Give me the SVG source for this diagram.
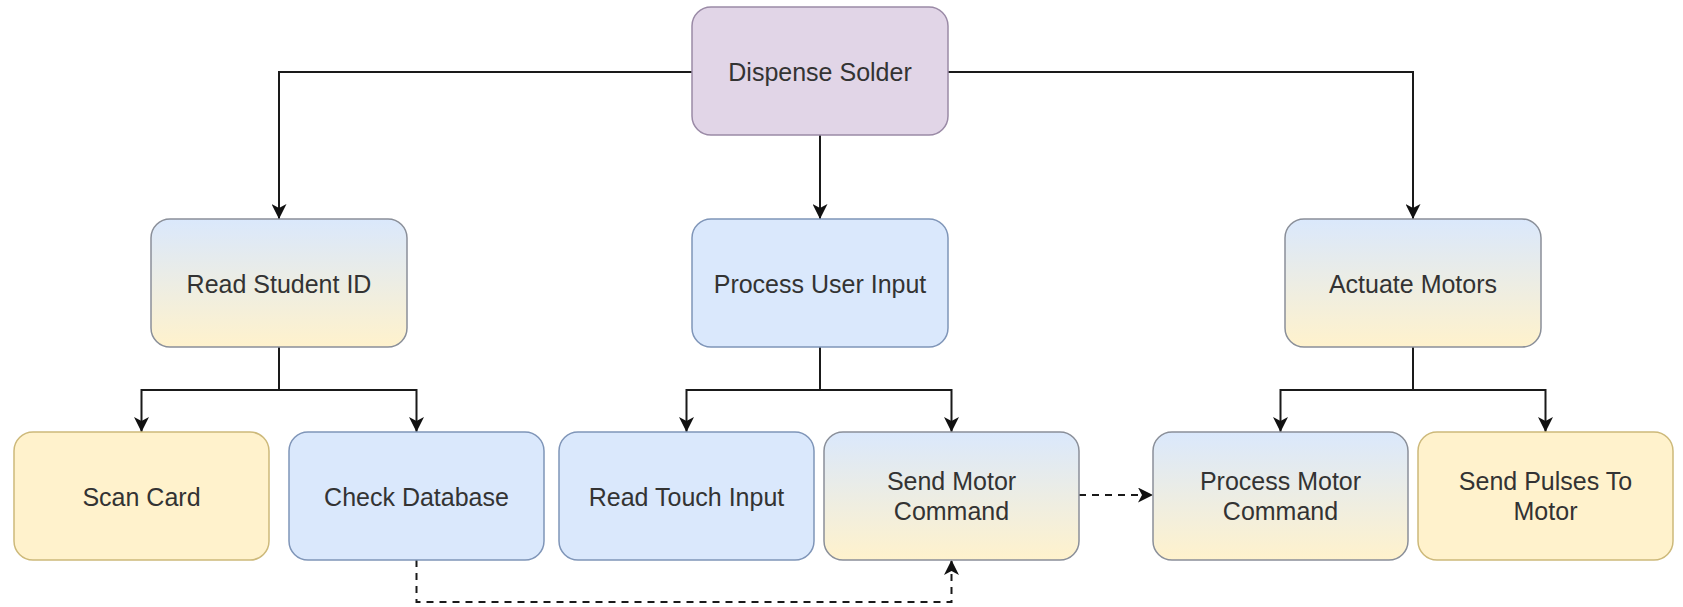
<svg xmlns="http://www.w3.org/2000/svg" width="1683" height="607" viewBox="0 0 1683 607">
  <defs>
    <linearGradient id="blueToYellow" x1="0" y1="0" x2="0" y2="1">
      <stop offset="0" stop-color="#dae8fc"/>
      <stop offset="1" stop-color="#fff2cc"/>
    </linearGradient>
    <marker id="arrow" viewBox="0 0 15 15" refX="15" refY="7.5" markerWidth="15" markerHeight="15" markerUnits="userSpaceOnUse" orient="auto">
      <path d="M0,0 L15,7.5 L0,15 L4,7.5 Z" fill="#111"/>
    </marker>
  </defs>
  <style>
    .box { stroke-width: 1.5; }
    .purple { fill: #e1d5e7; stroke: #9a8aa6; }
    .blue { fill: #dae8fc; stroke: #7f95b8; }
    .yellow { fill: #fff2cc; stroke: #cdb97a; }
    .grad { fill: url(#blueToYellow); stroke: #8a8f99; }
    .label { font-family: "Liberation Sans", Arial, sans-serif; font-size: 25px; fill: #333; text-anchor: middle; }
    .edge { fill: none; stroke: #1a1a1a; stroke-width: 2; marker-end: url(#arrow); }
    .dashed { stroke-dasharray: 7 6; }
  </style>

  <rect width="1683" height="607" fill="#ffffff"/>

  <!-- connectors -->
  <g id="connectors">
    <path class="edge" d="M692,72 H279 V219"/>
    <path class="edge" d="M948,72 H1413 V219"/>
    <path class="edge" d="M820,135 V219"/>
    <path class="edge" d="M279,347 V390 H141.5 V432"/>
    <path class="edge" d="M279,347 V390 H416.5 V432"/>
    <path class="edge" d="M820,347 V390 H686.5 V432"/>
    <path class="edge" d="M820,347 V390 H951.5 V432"/>
    <path class="edge" d="M1413,347 V390 H1280.5 V432"/>
    <path class="edge" d="M1413,347 V390 H1545.5 V432"/>
    <path class="edge dashed" d="M416.5,560 V602 H951.5 V560"/>
    <path class="edge dashed" d="M1079,495 H1153"/>
  </g>

  <!-- top level -->
  <g id="dispense-solder">
    <rect class="box purple" x="692" y="7" width="256" height="128" rx="19"/>
    <text class="label" x="820" y="81">Dispense Solder</text>
  </g>

  <!-- second level -->
  <g id="read-student-id">
    <rect class="box grad" x="151" y="219" width="256" height="128" rx="19"/>
    <text class="label" x="279" y="293">Read Student ID</text>
  </g>
  <g id="process-user-input">
    <rect class="box blue" x="692" y="219" width="256" height="128" rx="19"/>
    <text class="label" x="820" y="293">Process User Input</text>
  </g>
  <g id="actuate-motors">
    <rect class="box grad" x="1285" y="219" width="256" height="128" rx="19"/>
    <text class="label" x="1413" y="293">Actuate Motors</text>
  </g>

  <!-- third level -->
  <g id="scan-card">
    <rect class="box yellow" x="14" y="432" width="255" height="128" rx="19"/>
    <text class="label" x="141.5" y="506">Scan Card</text>
  </g>
  <g id="check-database">
    <rect class="box blue" x="289" y="432" width="255" height="128" rx="19"/>
    <text class="label" x="416.5" y="506">Check Database</text>
  </g>
  <g id="read-touch-input">
    <rect class="box blue" x="559" y="432" width="255" height="128" rx="19"/>
    <text class="label" x="686.5" y="506">Read Touch Input</text>
  </g>
  <g id="send-motor-command">
    <rect class="box grad" x="824" y="432" width="255" height="128" rx="19"/>
    <text class="label" x="951.5" y="490">Send Motor</text>
    <text class="label" x="951.5" y="520">Command</text>
  </g>
  <g id="process-motor-command">
    <rect class="box grad" x="1153" y="432" width="255" height="128" rx="19"/>
    <text class="label" x="1280.5" y="490">Process Motor</text>
    <text class="label" x="1280.5" y="520">Command</text>
  </g>
  <g id="send-pulses-to-motor">
    <rect class="box yellow" x="1418" y="432" width="255" height="128" rx="19"/>
    <text class="label" x="1545.5" y="490">Send Pulses To</text>
    <text class="label" x="1545.5" y="520">Motor</text>
  </g>
</svg>
